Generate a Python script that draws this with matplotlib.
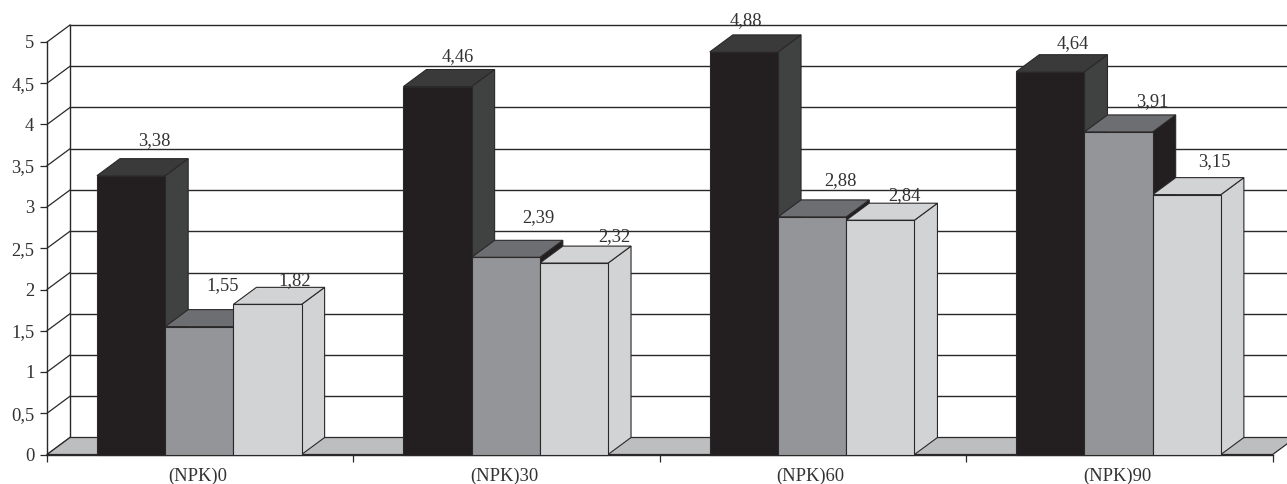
import matplotlib
matplotlib.use("Agg")
import matplotlib.pyplot as plt
from matplotlib.patches import Polygon
from matplotlib.transforms import ScaledTranslation

categories = ["(NPK)0", "(NPK)30", "(NPK)60", "(NPK)90"]
series_a = [3.38, 4.46, 4.88, 4.64]
series_b = [1.55, 2.39, 2.88, 3.91]
series_c = [1.82, 2.32, 2.84, 3.15]
y_ticks = [0, 0.5, 1, 1.5, 2, 2.5, 3, 3.5, 4, 4.5, 5]

# hand placed labels in the original, offset in px from the back top of the bar
label_dx = [[23, 20, 2, 22], [23, 33, 28, 34], [27, 40, 24, 28]]
label_dy = [[18, 12.5, 14, 11], [24, 23, 19, 13], [7, 10, 8, 16]]

# colours: front, top, side
styles = [("#231f20", "#3a3a3b", "#404141"),
          ("#939598", "#6d6e71", "#231f20"),
          ("#d1d3d4", "#d1d3d4", "#d1d3d4")]

LINE = "#2b2829"
TEXT = "#333132"

plt.rcParams["font.family"] = ["Liberation Serif", "DejaVu Serif"]

W, H = 1287, 484
fig = plt.figure(figsize=(W / 100, H / 100), dpi=100)
ax = fig.add_axes([47 / W, (H - 454.5) / H, 1225.7 / W, 412.5 / H])
ax.set_xlim(0, 4)
ax.set_ylim(0, 5)
ax.patch.set_alpha(0)

# 3d depth in data units
dx = 23 / (1225.7 / 4)
dy = 17 / (412.5 / 5)

bar_w = 0.2226
gap = (1 - 3 * bar_w) / 2 - 0.003

# back wall and floor
ax.add_patch(Polygon([(0, 0), (4, 0), (4 + dx, dy), (dx, dy)], closed=True, fc="#bcbec0",
                     ec=LINE, lw=0.9, clip_on=False, zorder=1))
for v in y_ticks:
    ax.plot([dx, 4 + dx], [v + dy, v + dy], color=LINE, lw=1.0, clip_on=False, zorder=0.5)
    ax.plot([0, dx], [v, v + dy], color=LINE, lw=0.9, clip_on=False, zorder=0.6)
ax.plot([dx, dx], [dy, 5 + dy], color=LINE, lw=1.0, clip_on=False, zorder=0.6)

z = 2
for s, values in enumerate([series_a, series_b, series_c]):
    front, top, side = styles[s]
    for i, v in enumerate(values):
        x0 = i + gap + s * bar_w
        x1 = x0 + bar_w
        ax.add_patch(Polygon([(x1, 0), (x1 + dx, dy), (x1 + dx, v + dy), (x1, v)], closed=True,
                             fc=side, ec=LINE, lw=0.8, clip_on=False, zorder=z))
        ax.add_patch(Polygon([(x0, v), (x1, v), (x1 + dx, v + dy), (x0 + dx, v + dy)], closed=True,
                             fc=top, ec=LINE, lw=0.8, clip_on=False, zorder=z))
        ax.bar(x0, v, bar_w, align="edge", color=front, edgecolor=LINE, lw=0.8, clip_on=False, zorder=z + 0.1)
        ax.annotate(f"{v:.2f}".replace(".", ","), xy=(x0 + bar_w / 2, v + dy),
                    xytext=(label_dx[s][i], label_dy[s][i]), textcoords="offset pixels",
                    ha="center", va="center", fontsize=13.3, color=TEXT, zorder=20,
                    annotation_clip=False)

for name in ["top", "right"]:
    ax.spines[name].set_visible(False)
for name in ["left", "bottom"]:
    ax.spines[name].set_color(LINE)
    ax.spines[name].set_linewidth(1.0)
    ax.spines[name].set_zorder(1.5)

ax.set_yticks(y_ticks)
ax.set_yticklabels([str(v).replace(".", ",") for v in y_ticks], fontsize=13.3, color=TEXT)
ax.tick_params(axis="y", length=7.5 * 0.72, width=0.9, color=LINE, pad=3.7)
ax.set_xticks([0, 1, 2, 3, 4])
ax.set_xticklabels([])
ax.tick_params(axis="x", which="major", length=7 * 0.72, width=0.9, color=LINE)
ax.set_xticks([0.5, 1.5, 2.5, 3.5], minor=True)
ax.set_xticklabels(categories, minor=True, fontsize=13.3, color=TEXT)
ax.tick_params(axis="x", which="minor", length=0, pad=9.5)
shift = ScaledTranslation(-2.5 / 100, 0, fig.dpi_scale_trans)
for label in ax.get_xticklabels(minor=True):
    label.set_transform(label.get_transform() + shift)

fig.savefig("out.png", dpi=100)
